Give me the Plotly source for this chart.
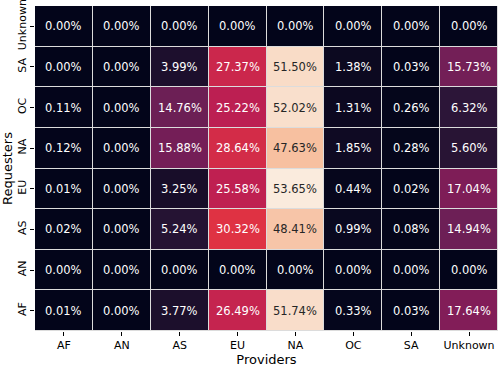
import plotly.graph_objects as go

providers = ["AF", "AN", "AS", "EU", "NA", "OC", "SA", "Unknown"]
requesters = ["AF", "AN", "AS", "EU", "NA", "OC", "SA", "Unknown"]

# share (%) of requests from each requester region (rows) to provider region (cols)
share = [
    [0.01, 0.00, 3.77, 26.49, 51.74, 0.33, 0.03, 17.64],   # AF
    [0.00, 0.00, 0.00, 0.00, 0.00, 0.00, 0.00, 0.00],      # AN
    [0.02, 0.00, 5.24, 30.32, 48.41, 0.99, 0.08, 14.94],   # AS
    [0.01, 0.00, 3.25, 25.58, 53.65, 0.44, 0.02, 17.04],   # EU
    [0.12, 0.00, 15.88, 28.64, 47.63, 1.85, 0.28, 5.60],   # NA
    [0.11, 0.00, 14.76, 25.22, 52.02, 1.31, 0.26, 6.32],   # OC
    [0.00, 0.00, 3.99, 27.37, 51.50, 1.38, 0.03, 15.73],   # SA
    [0.00, 0.00, 0.00, 0.00, 0.00, 0.00, 0.00, 0.00],      # Unknown
]

# seaborn "rocket" approximation
rocket = [
    [0.0, "#03051a"],
    [1 / 7, "#35193e"],
    [2 / 7, "#701f57"],
    [3 / 7, "#ad1759"],
    [4 / 7, "#e13342"],
    [5 / 7, "#f37651"],
    [6 / 7, "#f6b48f"],
    [1.0, "#faebdd"],
]

zmax = max(max(r) for r in share)

fig = go.Figure(
    go.Heatmap(
        z=share,
        x=providers,
        y=requesters,
        colorscale=rocket,
        zmin=0,
        zmax=zmax,
        showscale=False,
        xgap=1,
        ygap=1,
        hovertemplate="%{y} → %{x}: %{z:.2f}%<extra></extra>",
    )
)

for i, req in enumerate(requesters):
    for j, prov in enumerate(providers):
        v = share[i][j]
        fig.add_annotation(
            x=prov, y=req, text=f"{v:.2f}%", showarrow=False,
            font=dict(size=11.5, color="#262626" if v / zmax > 0.8 else "white"),
        )

fig.update_layout(
    width=499,
    height=367,
    margin=dict(l=35, r=1, t=6, b=36),
    paper_bgcolor="white",
    plot_bgcolor="#dcdcdc",
    font=dict(family="DejaVu Sans", size=11, color="black"),
)
fig.update_xaxes(
    title_text="Providers", title_standoff=8, automargin=False,
    ticks="outside", ticklen=4, tickcolor="black", showgrid=False,
    zeroline=False,
)
fig.update_yaxes(
    title_text="Requesters", title_standoff=4, automargin=False,
    ticks="outside", ticklen=4, tickcolor="black", tickangle=-90,
    showgrid=False, zeroline=False,
)

# drop the browser's default body margin so the figure sits at the corner
fig.write_html(
    "out.html",
    config={"displayModeBar": False},
    post_script="document.body.style.margin='0';",
)
